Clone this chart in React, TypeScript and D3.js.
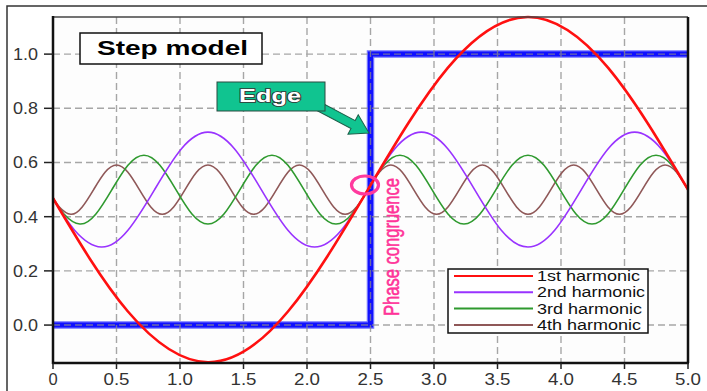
import React, { useEffect } from "react";
import * as d3 from "d3";

const W = 707;
const H = 391;
const margin = { top: 17, right: 19, bottom: 28, left: 53 };

// step model (ideal edge)
const stepX = [0, 2.5, 2.5, 5];
const stepY = [0, 0, 1, 1];

// 1st harmonic
const h1X = [0, 0.59, 1.22, 1.85, 2.48, 3.11, 3.74, 4.37, 5.0];
const h1Y = [0.468, 0.05, -0.137, 0.05, 0.5, 0.95, 1.137, 0.95, 0.5];

// 2nd harmonic
const h2X = [
  0, 0.17, 0.38, 0.59, 0.8, 1.01, 1.22, 1.43, 1.64, 1.85, 2.06, 2.27, 2.48,
  2.69, 2.9, 3.11, 3.32, 3.53, 3.74, 3.95, 4.16, 4.37, 4.58, 4.79, 5.0,
];
const h2Y = [
  0.468, 0.35, 0.288, 0.35, 0.5, 0.65, 0.712, 0.65, 0.5, 0.35, 0.288, 0.35, 0.5,
  0.65, 0.712, 0.65, 0.5, 0.35, 0.288, 0.35, 0.5, 0.65, 0.712, 0.65, 0.5,
];

// 3rd harmonic
const h3X = [
  0, 0.086, 0.212, 0.338, 0.464, 0.59, 0.716, 0.842, 0.968, 1.094, 1.22, 1.346,
  1.472, 1.598, 1.724, 1.85, 1.976, 2.102, 2.228, 2.354, 2.48, 2.606, 2.732,
  2.858, 2.984, 3.11, 3.236, 3.362, 3.488, 3.614, 3.74, 3.866, 3.992, 4.118,
  4.244, 4.37, 4.496, 4.622, 4.748, 4.874, 5.0,
];
const h3Y = [
  0.468, 0.41, 0.373, 0.41, 0.5, 0.59, 0.627, 0.59, 0.5, 0.41, 0.373, 0.41, 0.5,
  0.59, 0.627, 0.59, 0.5, 0.41, 0.373, 0.41, 0.5, 0.59, 0.627, 0.59, 0.5, 0.41,
  0.373, 0.41, 0.5, 0.59, 0.627, 0.59, 0.5, 0.41, 0.373, 0.41, 0.5, 0.59, 0.627,
  0.59, 0.5,
];

// 4th harmonic
const h4X = [
  0, 0.05, 0.14, 0.23, 0.32, 0.41, 0.5, 0.59, 0.68, 0.77, 0.86, 0.95, 1.04,
  1.13, 1.22, 1.31, 1.4, 1.49, 1.58, 1.67, 1.76, 1.85, 1.94, 2.03, 2.12, 2.21,
  2.3, 2.39, 2.48, 2.57, 2.66, 2.75, 2.84, 2.93, 3.02, 3.11, 3.2, 3.29, 3.38,
  3.47, 3.56, 3.65, 3.74, 3.83, 3.92, 4.01, 4.1, 4.19, 4.28, 4.37, 4.46, 4.55,
  4.64, 4.73, 4.82, 4.91, 5.0,
];
const h4Y = [
  0.469, 0.436, 0.409, 0.436, 0.5, 0.564, 0.591, 0.564, 0.5, 0.436, 0.409, 0.436,
  0.5, 0.564, 0.591, 0.564, 0.5, 0.436, 0.409, 0.436, 0.5, 0.564, 0.591, 0.564,
  0.5, 0.436, 0.409, 0.436, 0.5, 0.564, 0.591, 0.564, 0.5, 0.436, 0.409, 0.436,
  0.5, 0.564, 0.591, 0.564, 0.5, 0.436, 0.409, 0.436, 0.5, 0.564, 0.591, 0.564,
  0.5, 0.436, 0.409, 0.436, 0.5, 0.564, 0.591, 0.564, 0.5,
];

const xTicks = [0, 0.5, 1, 1.5, 2, 2.5, 3, 3.5, 4, 4.5, 5];
const xTickLabels = ["0", "0.5", "1.0", "1.5", "2.0", "2.5", "3.0", "3.5", "4.0", "4.5", "5.0"];
const yTicks = [0, 0.2, 0.4, 0.6, 0.8, 1.0];
const yTickLabels = ["0.0", "0.2", "0.4", "0.6", "0.8", "1.0"];

const legendLabels = ["1st harmonic", "2nd harmonic", "3rd harmonic", "4th harmonic"];
const colors = ["#ff1010", "#9933ff", "#2f9a2f", "#8f5858"];

const FONT = "'Liberation Sans', Arial, sans-serif";

export default function App() {
  useEffect(() => {
    document.body.style.margin = "0";
    document.body.style.overflow = "hidden";
  }, []);

  const x = d3.scaleLinear().domain([0, 5]).range([margin.left, W - margin.right]);
  const y = d3.scaleLinear().domain([-0.14, 1.137]).range([H - margin.bottom, margin.top]);

  const smooth = d3
    .line<[number, number]>()
    .x((d) => x(d[0]))
    .y((d) => y(d[1]))
    .curve(d3.curveNatural);
  const straight = d3
    .line<[number, number]>()
    .x((d) => x(d[0]))
    .y((d) => y(d[1]));

  const zip = (xs: number[], ys: number[]) => xs.map((v, i) => [v, ys[i]] as [number, number]);
  const series = [zip(h1X, h1Y), zip(h2X, h2Y), zip(h3X, h3Y), zip(h4X, h4Y)];
  const widths = [2.6, 1.6, 1.6, 1.6];
  const stepPath = straight(zip(stepX, stepY)) || "";

  const x0 = x(0), x1 = x(5), yTop = margin.top, yBot = H - margin.bottom;

  // arrow for the "Edge" callout
  const S = [318, 106];
  const T = [369, 133];
  const L = Math.hypot(T[0] - S[0], T[1] - S[1]);
  const ang = (Math.atan2(T[1] - S[1], T[0] - S[0]) * 180) / Math.PI;
  const hl = 18, hw = 11, sw = 4.5;
  const arrowPts = [
    [0, -sw], [L - hl, -sw], [L - hl, -hw], [L, 0], [L - hl, hw], [L - hl, sw], [0, sw],
  ].map((p) => p.join(",")).join(" ");

  const lx = 448, ly = 269;

  return (
    <svg width={W} height={H} style={{ position: "absolute", left: 0, top: 0, background: "#fff" }} fontFamily={FONT}>
      {/* outer frame */}
      <rect x={7} y={6} width={W + 20} height={H + 20} fill="#fff" stroke="#333" strokeWidth={1.5} />
      <rect x={x0} y={yTop} width={x1 - x0} height={yBot - yTop} fill="#fdfdfd" />

      {/* step */}
      <path d={stepPath} fill="none" stroke="#7070ff" strokeWidth={7.5} />
      <path d={stepPath} fill="none" stroke="#1010ff" strokeWidth={5} />

      {/* grid */}
      <g stroke="#8a8a8a" strokeWidth={1.4} strokeDasharray="7,4" opacity={0.75}>
        {xTicks.slice(1, -1).map((t) => (
          <line key={"gx" + t} x1={x(t)} x2={x(t)} y1={yTop} y2={yBot} />
        ))}
        {yTicks.map((t) => (
          <line key={"gy" + t} x1={x0} x2={x1} y1={y(t)} y2={y(t)} />
        ))}
      </g>

      {/* harmonics */}
      {series
        .slice()
        .reverse()
        .map((s, ri) => {
          const i = series.length - 1 - ri;
          return (
            <path key={i} d={smooth(s) || ""} fill="none" stroke={colors[i]} strokeWidth={widths[i]} />
          );
        })}

      {/* axes frame */}
      <line x1={x0} x2={x1} y1={yTop} y2={yTop} stroke="#444" strokeWidth={1.5} />
      <line x1={x1} x2={x1} y1={yTop} y2={yBot} stroke="#111" strokeWidth={2.5} />
      <line x1={x0} x2={x0} y1={yTop - 1} y2={yBot + 1} stroke="#111" strokeWidth={2.5} />
      <line x1={x0 - 1} x2={x1 + 1} y1={yBot} y2={yBot} stroke="#111" strokeWidth={2.5} />

      {/* ticks */}
      {yTicks.map((t, i) => (
        <g key={"yt" + t}>
          <line x1={x0 - 9} x2={x0} y1={y(t)} y2={y(t)} stroke="#222" strokeWidth={1.5} />
          <text x={38} y={y(t)} dy="0.36em" textAnchor="end" fontSize={16.5} fill="#333"
            textLength={25} lengthAdjust="spacingAndGlyphs">
            {yTickLabels[i]}
          </text>
        </g>
      ))}
      {xTicks.map((t, i) => (
        <g key={"xt" + t}>
          <line x1={x(t)} x2={x(t)} y1={yBot} y2={yBot + 6} stroke="#222" strokeWidth={1.5} />
          <text x={x(t)} y={yBot + 16} dy="0.36em" textAnchor="middle" fontSize={16.5} fill="#333"
            {...(xTickLabels[i].length > 1 ? { textLength: 26, lengthAdjust: "spacingAndGlyphs" } : {})}>
            {xTickLabels[i]}
          </text>
        </g>
      ))}

      {/* Step model title */}
      <rect x={80} y={33} width={182} height={31} fill="#fff" stroke="#111" strokeWidth={1.5} />
      <text x={97} y={55} fontSize={21} fontWeight="bold" fill="#000" textLength={151} lengthAdjust="spacingAndGlyphs">
        Step model
      </text>

      {/* Edge callout */}
      <polygon points={arrowPts} transform={`translate(${S[0]},${S[1]}) rotate(${ang})`}
        fill="#10c490" stroke="#1d5f4a" strokeWidth={1} />
      <rect x={217} y={82} width={108} height={29} fill="#10c490" stroke="#2a4a40" strokeWidth={1} />
      <text x={270} y={102} textAnchor="middle" fontSize={18} fontWeight="bold" fill="#fff"
        stroke="#333" strokeWidth={1.6} paintOrder="stroke" textLength={62} lengthAdjust="spacingAndGlyphs">
        Edge
      </text>

      {/* phase congruence marker */}
      <ellipse cx={365} cy={185} rx={13.5} ry={9} fill="none" stroke="#ff3a9e" strokeWidth={3.2} />
      <text transform="translate(399,316) rotate(-90)" fontSize={22} fill="#ff3399"
        stroke="#ff3399" strokeWidth={0.6} textLength={138} lengthAdjust="spacingAndGlyphs">
        Phase congruence
      </text>

      {/* legend */}
      <rect x={lx} y={ly} width={200} height={64} fill="#fff" stroke="#111" strokeWidth={1.5} />
      {legendLabels.map((lab, i) => {
        const cy = ly + 7 + i * 16.3;
        return (
          <g key={lab}>
            <line x1={lx + 6} x2={lx + 85} y1={cy} y2={cy} stroke={colors[i]} strokeWidth={2} />
            <text x={lx + 89} y={cy} dy="0.36em" fontSize={14} fill="#111"
              textLength={[103, 108, 105, 104][i]} lengthAdjust="spacingAndGlyphs">
              {lab}
            </text>
          </g>
        );
      })}
    </svg>
  );
}
